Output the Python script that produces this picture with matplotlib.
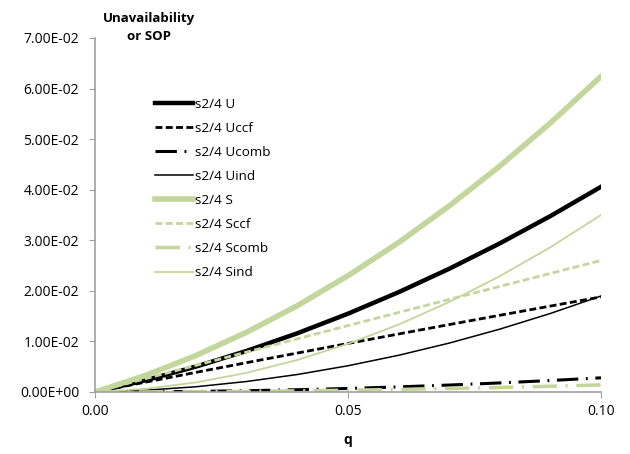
import matplotlib
matplotlib.use("Agg")
import matplotlib.pyplot as plt
from matplotlib.ticker import FuncFormatter

plt.rcParams['font.family'] = ['Open Sans', 'DejaVu Sans']

q = [0.00, 0.01, 0.02, 0.03, 0.04, 0.05, 0.06, 0.07, 0.08, 0.09, 0.10]

u_tot = [0, 0.00233, 0.00504, 0.00814, 0.01162, 0.01549, 0.01974, 0.02437, 0.02939, 0.03479, 0.04058]
u_ccf = [0, 0.00195, 0.00389, 0.00581, 0.00771, 0.00960, 0.01147, 0.01333, 0.01517, 0.01699, 0.01880]
u_comb = [0, 0.000028, 0.000112, 0.000252, 0.000448, 0.00070, 0.001008, 0.001372, 0.001792, 0.002268, 0.00280]
u_ind = [0, 0.00035, 0.00104, 0.00208, 0.00346, 0.00519, 0.00726, 0.00967, 0.01243, 0.01553, 0.01898]

s_tot = [0, 0.00329, 0.00724, 0.01184, 0.01708, 0.02301, 0.02956, 0.03680, 0.04468, 0.05321, 0.06240]
s_ccf = [0, 0.002645, 0.00528, 0.00791, 0.01052, 0.01313, 0.01572, 0.01831, 0.02088, 0.02345, 0.02600]
s_comb = [0, 0.000014, 0.000056, 0.000126, 0.000224, 0.00035, 0.000504, 0.000686, 0.000896, 0.001134, 0.00140]
s_ind = [0, 0.00063, 0.00190, 0.00380, 0.00634, 0.00953, 0.01334, 0.01780, 0.02290, 0.02863, 0.03500]

green = '#C3D69B'
dashdot = (0, (7, 2.5, 0.6, 2.5))

fig = plt.figure(figsize=(6.3, 4.54), dpi=100)
ax = fig.add_axes([0.151, 0.1366, 0.803, 0.7797])

ax.plot(q, u_tot, color='black', lw=3.2, label='s2/4 U')
ax.plot(q, u_ccf, color='black', lw=2, ls=(0, (2.5, 1.2)), label='s2/4 Uccf')
ax.plot(q, u_comb, color='black', lw=2.2, ls=dashdot, label='s2/4 Ucomb')
ax.plot(q, u_ind, color='black', lw=1.1, label='s2/4 Uind')
ax.plot(q, s_tot, color=green, lw=4, label='s2/4 S')
ax.plot(q, s_ccf, color=green, lw=2, ls=(0, (2.5, 1.2)), label='s2/4 Sccf')
ax.plot(q, s_comb, color=green, lw=2.5, ls=dashdot, label='s2/4 Scomb')
ax.plot(q, s_ind, color=green, lw=1.3, label='s2/4 Sind')

ax.set_xlim(0, 0.1)
ax.set_ylim(0, 0.07)
ax.set_xticks([0, 0.05, 0.10])
ax.set_yticks([i * 0.01 for i in range(8)])
ax.xaxis.set_major_formatter(FuncFormatter(lambda v, p: f'{v:.2f}'))
ax.yaxis.set_major_formatter(FuncFormatter(lambda v, p: f'{v:.2E}'))

for side in ['top', 'right']:
    ax.spines[side].set_visible(False)
for side in ['left', 'bottom']:
    ax.spines[side].set_color('#A0A0A0')
    ax.spines[side].set_linewidth(1.2)
ax.tick_params(colors='#A0A0A0', labelcolor='black', labelsize=10, length=4.5, direction='out')
ax.tick_params(axis='y', pad=7)
ax.tick_params(axis='x', pad=4)

ax.set_xlabel('q', fontweight='bold', fontsize=10)
ax.xaxis.set_label_coords(0.5, -0.115)
fig.text(0.237, 0.905, 'Unavailability\nor SOP', fontweight='bold', fontsize=9.5,
         ha='center', va='bottom', linespacing=1.5)

ax.legend(loc='upper left', bbox_to_anchor=(0.095, 0.865), frameon=False,
          fontsize=9.7, handlelength=2.8, handletextpad=0.15, labelspacing=0.82)

fig.savefig('out.png', dpi=100)
